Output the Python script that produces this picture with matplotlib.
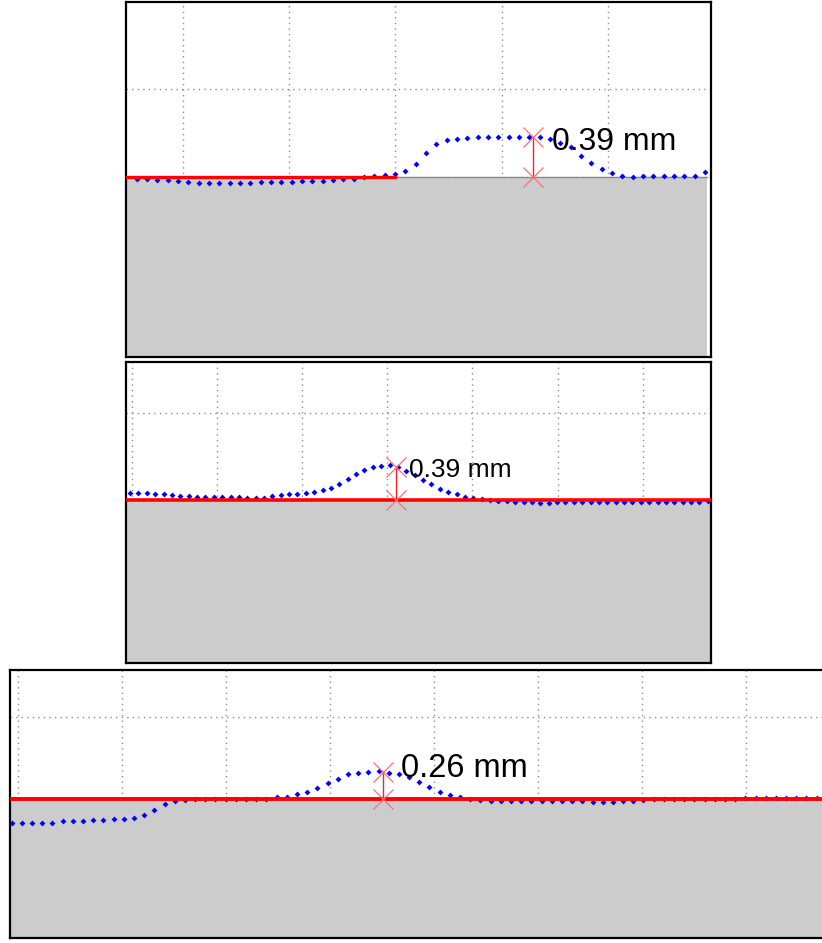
import numpy as np
import matplotlib
matplotlib.use("Agg")
import matplotlib.pyplot as plt

plt.rcParams['font.family'] = ['Liberation Sans', 'DejaVu Sans']

# profile heights (grid units, 0 = base surface)
p1_height = [-0.022, -0.022, -0.026, -0.026, -0.037, -0.048, -0.060, -0.060,
             -0.060, -0.060, -0.060, -0.060, -0.048, -0.048, -0.048, -0.048,
             -0.037, -0.037, -0.037, -0.026, -0.022, -0.015, 0.000, 0.017,
             0.030, 0.039, 0.073, 0.157, 0.275, 0.371, 0.416, 0.438,
             0.444, 0.453, 0.455, 0.457, 0.457, 0.457, 0.457, 0.455,
             0.427, 0.393, 0.348, 0.247, 0.163, 0.090, 0.045, 0.022,
             0.009, 0.015, 0.015, 0.015, 0.015, 0.015, 0.015, 0.060]
p2_height = [0.084, 0.084, 0.084, 0.066, 0.066, 0.057, 0.049, 0.040,
             0.038, 0.038, 0.038, 0.032, 0.031, 0.031, 0.028, 0.026,
             0.026, 0.041, 0.055, 0.064, 0.066, 0.078, 0.092, 0.109,
             0.134, 0.182, 0.236, 0.299, 0.343, 0.377, 0.394, 0.402,
             0.374, 0.333, 0.282, 0.230, 0.178, 0.126, 0.095, 0.063,
             0.037, 0.023, 0.009, 0.000, -0.008, -0.014, -0.020, -0.025,
             -0.029, -0.031, -0.031, -0.029, -0.029, -0.026,
             -0.026, -0.026, -0.026, -0.026, -0.026, -0.026,
             -0.025, -0.025, -0.025, -0.025, -0.025,
             -0.023, -0.023, -0.021, -0.020, -0.017]
p3_height = [-0.289, -0.289, -0.289, -0.289, -0.289, -0.272, -0.272, -0.272,
             -0.260, -0.260, -0.248, -0.248, -0.232, -0.195, -0.134, -0.065,
             -0.027, -0.018, -0.004, 0.000, 0.000, 0.000, 0.000, 0.000,
             0.000, 0.004, 0.028, 0.030, 0.057, 0.083, 0.132, 0.189,
             0.244, 0.299, 0.320, 0.327, 0.339, 0.323, 0.309, 0.268,
             0.213, 0.146, 0.085, 0.043, 0.022, 0.004, -0.012,
             -0.024, -0.024, -0.024, -0.024, -0.024, -0.024, -0.024, -0.024, -0.024,
             -0.030, -0.033, -0.033, -0.033, -0.030, -0.022, -0.018,
             0.000, 0.000, 0.000, 0.000,
             0.006, 0.006, 0.006, 0.006, 0.006,
             0.012, 0.012, 0.012, 0.012, 0.012, 0.012, 0.012, 0.012]

p1_x = np.linspace(-0.436, 4.913, len(p1_height))
p2_x = np.linspace(-0.018, 6.761, len(p2_height))
p3_x = np.linspace(-0.061, 7.680, len(p3_height))

# measured bump: position, height, label
p1_meas = (3.294, 0.457, "0.39 mm")
p2_meas = (3.103, 0.376, "0.39 mm")
p3_meas = (3.510, 0.326, "0.26 mm")

W, H = 822, 943
fig = plt.figure(figsize=(W / 100, H / 100), dpi=100)


def px_axes(l, t, r, b):
    return fig.add_axes([l / W, 1 - b / H, (r - l) / W, (b - t) / H])


def setup(ax, xlim, ylim, nx):
    ax.set_xlim(*xlim)
    ax.set_ylim(*ylim)
    ax.set_xticks(range(nx))
    ax.set_yticks([0, 1])
    ax.tick_params(length=0, labelbottom=False, labelleft=False)
    ax.set_axisbelow(True)
    ax.grid(True, color='#8c8c8c', linestyle=(0, (1, 3)), linewidth=1.0)
    for s in ax.spines.values():
        s.set_linewidth(1.6)
        s.set_color('black')


def measure(ax, meas, fs, tx, ty):
    x, h, label = meas
    ax.plot([x, x], [0, h], color='#ff2020', lw=1.0, zorder=4)
    ax.plot([x, x], [0, h], linestyle='none', marker='x', ms=14, mew=0.9,
            color='#ff7070', zorder=4)
    ax.text(tx, ty, label, fontsize=fs, ha='left', va='baseline', zorder=5)


blue = dict(linestyle='none', marker='D', ms=3.0, mew=0, color='#0000ff', zorder=2)

# panel 1
ax1 = px_axes(126, 2, 711, 357)
setup(ax1, (-0.536, 4.97), (-2.017, 1.972), 5)
ax1.fill_between([-0.536, 4.93], 0, -2.1, color='#cccccc', lw=0, zorder=1)
ax1.plot([2.0, 4.93], [0, 0], color='#8a8a8a', lw=1.0, zorder=1.5)
ax1.plot(p1_x, p1_height, **blue)
ax1.plot([-0.536, 2.0], [0, 0], color='#ff0000', lw=2.4, zorder=3)
measure(ax1, p1_meas, 23, 3.473, 0.309)

# panel 2
ax2 = px_axes(126, 362, 711, 663)
setup(ax2, (-0.065, 6.798), (-1.874, 1.586), 7)
ax2.axhspan(-2.0, 0, color='#cccccc', lw=0, zorder=1)
ax2.plot(p2_x, p2_height, **blue)
ax2.axhline(0, color='#ff0000', lw=2.6, zorder=3)
measure(ax2, p2_meas, 19, 3.255, 0.268)

# panel 3
ax3 = px_axes(10, 670, 830, 938)
setup(ax3, (-0.077, 7.808), (-1.695, 1.573), 8)
ax3.axhspan(-2.0, 0, color='#cccccc', lw=0, zorder=1)
ax3.plot(p3_x, p3_height, **blue)
ax3.axhline(0, color='#ff0000', lw=2.8, zorder=3)
measure(ax3, p3_meas, 23.5, 3.678, 0.265)

fig.savefig("out.png", dpi=100)
